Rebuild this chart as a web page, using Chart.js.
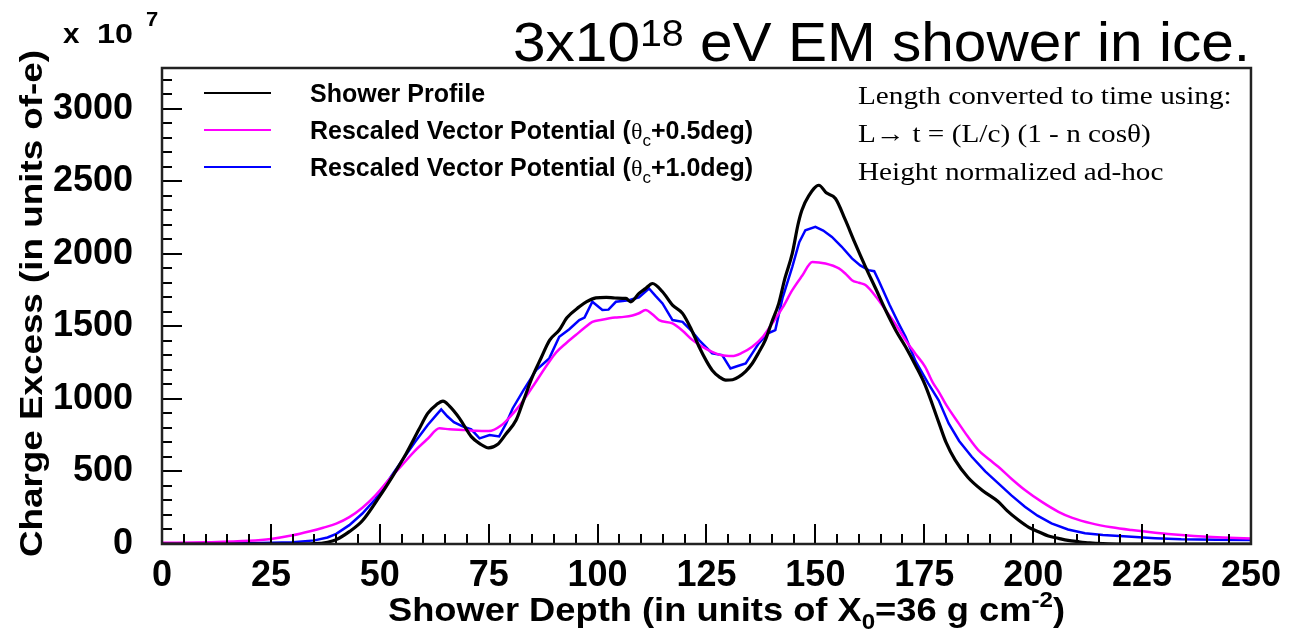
<!DOCTYPE html>
<html>
<head>
<meta charset="utf-8">
<script src="https://cdn.jsdelivr.net/npm/chart.js@4.4.1/dist/chart.umd.min.js"></script>
<style>
  html, body { margin: 0; padding: 0; background: #fff; }
  canvas { display: block; }
</style>
</head>
<body>
<canvas id="c" width="1291" height="639"></canvas>
<script>
// ---------------- data ----------------
const showerX = [0,10,20,30,35,38,40,43,46,50,53,56,59,61,63,64.5,66,68.3,71,73,75,77,79,81.3,83,85,87,89,91.2,93,95.8,97.5,99.6,102,104,106.5,107.6,109.5,111,112.6,114.9,117.2,119.5,121.5,123.3,125,126.3,128,129.4,131,132.4,134,135.5,137,138.5,140,141.6,143,144.7,146,146.9,148.5,150.8,152.5,154.6,156.9,159,161.5,164,166.1,168.5,170.7,173,175.2,178.3,180,182.1,185,188.2,192,194,196.6,199,201.2,203.5,205.8,208,210.4,213,216,220,250];
const showerY = [0,0,0,0,2,12,30,85,160,330,470,620,790,900,960,985,950,866,740,690,662,685,760,854,990,1150,1280,1405,1474,1560,1634,1670,1696,1700,1695,1692,1669,1727,1760,1795,1738,1646,1589,1480,1359,1260,1198,1150,1129,1132,1152,1190,1244,1320,1405,1530,1658,1830,2002,2200,2300,2400,2472,2420,2381,2231,2080,1910,1750,1612,1470,1359,1230,1095,840,700,578,460,372,291,230,165,115,85,55,39,25,16,8,3,0,0];

const pinkX = [0,10,20,25,30,34,37,40,43,46,49,52,55,58,61,63.7,66,69.8,72,75,78,80,82,85,88.9,90.5,92.7,95,97,98.8,101,104,106,108,109.5,111,112.5,114.1,117.2,119.5,121.8,124,126.3,128.5,130.9,133,135.5,138,140.1,142.5,144.7,147,149.3,152.3,155.4,157,158.4,160,161.5,164,166.1,168.5,170.7,173,175.2,177,178.3,180,182.9,185,187.4,190,192,195,198.1,202,205.8,209,213.4,218,222.6,228,234,240,245,250];
const pinkY = [8,12,22,35,60,88,112,140,185,250,335,440,540,640,725,797,790,785,780,778,820,880,950,1080,1256,1320,1382,1440,1490,1531,1545,1560,1565,1575,1590,1612,1585,1543,1520,1470,1405,1360,1324,1300,1295,1315,1359,1430,1520,1630,1749,1850,1944,1933,1899,1860,1818,1800,1784,1700,1612,1510,1405,1310,1221,1110,1050,960,831,740,647,580,532,450,372,290,222,180,142,115,96,78,62,50,43,38];

const blueX = [0,10,20,30,35,38,40,43,46,49,52,55,58,61,63,64.1,65.5,67,69,71,72.9,75.2,77.4,79,80.5,83,85.9,88.9,91.2,93.5,95.8,97,98.8,101.1,102.5,104.2,107.2,109.5,111.8,113.3,114.9,117.2,119.5,121.5,123.3,126.3,128.6,130.5,132,134,137,139,140.8,142.5,144.7,146.3,147.7,150,151.8,153.8,156,158.4,160.3,162.2,163.5,164.5,167,169.1,170.7,173,175.9,178.3,180.6,183,185.9,189,192,195,198.1,201,204.2,208,211.9,216,222.6,228,234,242,250];
const blueY = [3,4,6,12,25,45,70,130,210,310,440,570,700,820,890,928,880,840,810,790,728,751,741,830,934,1060,1198,1279,1428,1480,1543,1560,1669,1612,1615,1669,1680,1700,1761,1710,1658,1543,1531,1470,1405,1313,1302,1210,1225,1244,1382,1450,1474,1700,1910,2080,2162,2185,2160,2116,2050,1968,1920,1887,1880,1818,1650,1520,1428,1260,1107,990,831,710,601,500,418,335,257,195,142,100,74,62,50,40,32,29,27];

const legendLabels = ['Shower Profile', 'Rescaled Vector Potential (θc+0.5deg)', 'Rescaled Vector Potential (θc+1.0deg)'];
const seriesColors = ['#000000', '#ff00ff', '#0000ff'];
const xTickValues = [0,25,50,75,100,125,150,175,200,225,250];
const yTickValues = [0,500,1000,1500,2000,2500,3000];
const noteLines = ['Length converted to time using:', 'L\u2192 t = (L/c) (1 - n cos\u03b8)', 'Height normalized ad-hoc'];

// ---------------- helpers ----------------
function toXY(xs, ys) { return xs.map((x, i) => ({ x: x, y: ys[i] })); }

function drawRich(ctx, segs, x, y, opts) {
  opts = opts || {};
  ctx.save();
  ctx.translate(x, y);
  if (opts.rotate) ctx.rotate(opts.rotate);
  let total = 0;
  const widths = segs.map(s => { ctx.font = s.font; const w = ctx.measureText(s.t).width; total += w; return w; });
  const sx = opts.width ? opts.width / total : (opts.sx || 1);
  ctx.scale(sx, 1);
  let cx = opts.align === 'center' ? -total / 2 : 0;
  ctx.textBaseline = 'alphabetic';
  ctx.fillStyle = opts.color || '#000';
  segs.forEach((s, i) => { ctx.font = s.font; ctx.fillText(s.t, cx, s.dy || 0); cx += widths[i]; });
  ctx.restore();
}

const SANS = '"Liberation Sans", Arial, Helvetica, sans-serif';
const SERIF = '"Liberation Serif", "Times New Roman", serif';

const overlay = {
  id: 'overlay',
  afterDraw(chart) {
    const ctx = chart.ctx;
    const { left, right, top, bottom } = chart.chartArea;
    const xs = chart.scales.x, ys = chart.scales.y;
    ctx.save();
    // inward ticks
    ctx.strokeStyle = '#000';
    ctx.lineWidth = 2;
    ctx.beginPath();
    const xStep = (xTickValues[1] - xTickValues[0]) / 5;
    for (let v = xTickValues[0]; v <= xs.max + 1e-6; v += xStep) {
      const px = Math.round(xs.getPixelForValue(v));
      const major = Math.abs((v / (xStep * 5)) - Math.round(v / (xStep * 5))) < 1e-6;
      ctx.moveTo(px, bottom);
      ctx.lineTo(px, bottom - (major ? 20 : 10));
    }
    const yStep = (yTickValues[1] - yTickValues[0]) / 5;
    for (let v = yTickValues[0]; v <= ys.max + 1e-6; v += yStep) {
      const py = Math.round(ys.getPixelForValue(v));
      const major = Math.abs((v / (yStep * 5)) - Math.round(v / (yStep * 5))) < 1e-6;
      ctx.moveTo(left, py);
      ctx.lineTo(left + (major ? 20 : 10), py);
    }
    ctx.stroke();
    // frame
    ctx.strokeStyle = '#222';
    ctx.lineWidth = 2.5;
    ctx.strokeRect(left, top, right - left, bottom - top);
    ctx.restore();

    // main title
    drawRich(ctx, [
      { t: '3x10', font: `55px ${SANS}` },
      { t: '18', font: `37px ${SANS}`, dy: -15 },
      { t: ' eV EM shower in ice.', font: `55px ${SANS}` }
    ], 513, 61, { width: 737 });

    // exponent label
    drawRich(ctx, [{ t: 'x', font: `bold 27px ${SANS}` }], 63, 43, { sx: 1.1 });
    drawRich(ctx, [{ t: '10', font: `bold 27px ${SANS}` }], 97, 43, { width: 36 });
    drawRich(ctx, [{ t: '7', font: `bold 21px ${SANS}` }], 146, 26, { sx: 1.05 });

    // y axis title
    drawRich(ctx, [{ t: 'Charge Excess (in units of-e)', font: `bold 32px ${SANS}` }], 42, 557, { rotate: -Math.PI / 2, width: 507 });

    // x axis title
    drawRich(ctx, [
      { t: 'Shower Depth (in units of X', font: `bold 33px ${SANS}` },
      { t: '0', font: `bold 22px ${SANS}`, dy: 8 },
      { t: '=36 g cm', font: `bold 33px ${SANS}` },
      { t: '-2', font: `bold 22px ${SANS}`, dy: -14 },
      { t: ')', font: `bold 33px ${SANS}` }
    ], 388, 621, { width: 677 });

    // legend
    const legY = [93, 130, 167];
    chart.data.datasets.forEach((ds, i) => {
      ctx.save();
      ctx.strokeStyle = ds.borderColor;
      ctx.lineWidth = 2;
      ctx.beginPath();
      ctx.moveTo(204, legY[i]);
      ctx.lineTo(271, legY[i]);
      ctx.stroke();
      ctx.restore();
      const lab = legendLabels[i];
      const k = lab.indexOf('\u03b8c');
      let segs;
      if (k < 0) {
        segs = [{ t: lab, font: `bold 25px ${SANS}` }];
      } else {
        segs = [
          { t: lab.slice(0, k), font: `bold 25px ${SANS}` },
          { t: '\u03b8', font: `24px ${SERIF}` },
          { t: 'c', font: `17px ${SANS}`, dy: 7 },
          { t: lab.slice(k + 2), font: `bold 25px ${SANS}` }
        ];
      }
      drawRich(ctx, segs, 310, legY[i] + 9, { sx: 1.0 });
    });

    // note text
    const noteY = [104, 142, 180];
    noteLines.forEach((t, i) => {
      drawRich(ctx, [{ t: t, font: `25px ${SERIF}` }], 858, noteY[i], { sx: 1.17 });
    });
  }
};

const tickFont = { family: SANS, size: 36, weight: 'bold' };

new Chart(document.getElementById('c'), {
  type: 'line',
  data: {
    datasets: [
      { label: legendLabels[0], data: toXY(showerX, showerY), borderColor: seriesColors[0], borderWidth: 3.2, pointRadius: 0, fill: false, cubicInterpolationMode: 'monotone' },
      { label: legendLabels[1], data: toXY(pinkX, pinkY), borderColor: seriesColors[1], borderWidth: 2.5, pointRadius: 0, fill: false, cubicInterpolationMode: 'monotone' },
      { label: legendLabels[2], data: toXY(blueX, blueY), borderColor: seriesColors[2], borderWidth: 2.5, pointRadius: 0, fill: false, tension: 0 }
    ]
  },
  options: {
    responsive: false,
    animation: false,
    devicePixelRatio: 1,
    layout: { padding: { top: 68, right: 38, left: 0, bottom: 0 } },
    plugins: { legend: { display: false }, tooltip: { enabled: false }, title: { display: false } },
    scales: {
      x: {
        type: 'linear', min: 0, max: 250,
        afterBuildTicks: s => { s.ticks = xTickValues.map(v => ({ value: v })); },
        afterFit: s => { s.height = 95; },
        ticks: { font: tickFont, color: '#000', padding: 10, maxRotation: 0, autoSkip: false, callback: v => String(v) },
        grid: { display: false, drawTicks: false },
        border: { display: false }
      },
      y: {
        type: 'linear', min: 0, max: 3280,
        afterBuildTicks: s => { s.ticks = yTickValues.map(v => ({ value: v })); },
        afterFit: s => { s.width = 162; },
        ticks: { font: tickFont, color: '#000', padding: 29, autoSkip: false, callback: v => String(v) },
        grid: { display: false, drawTicks: false },
        border: { display: false }
      }
    }
  },
  plugins: [overlay]
});
</script>
</body>
</html>
